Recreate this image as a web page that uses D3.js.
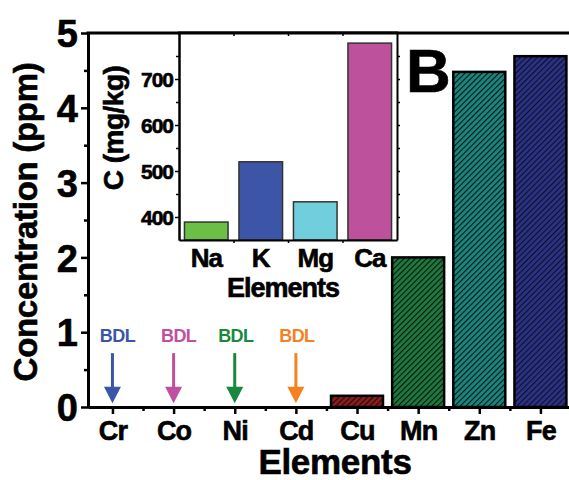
<!DOCTYPE html>
<html>
<head>
<meta charset="utf-8">
<script src="https://cdn.jsdelivr.net/npm/d3@7/dist/d3.min.js"></script>
<style>
  html, body { margin: 0; padding: 0; background: #fff; }
  svg { display: block; font-family: "Liberation Sans", Arial, sans-serif; font-weight: bold; }
  .axis path, .axis line { stroke: #000; }
  .axis text { fill: #000; font-family: "Liberation Sans", Arial, sans-serif; font-weight: bold; }
  .heavy { stroke: #000; stroke-width: 0.6px; }
</style>
</head>
<body>
<svg id="chart" width="569" height="480"></svg>
<script>
// Main chart: trace elements (ppm), inset: major elements (mg/kg)

const categories = ["Cr", "Co", "Ni", "Cd", "Cu", "Mn", "Zn", "Fe"];
const concentrations = [null, null, null, null, 0.15, 2.0, 4.48, 4.69];
const markColors = ["#3b55a8", "#c0509f", "#17893f", "#f5821f", "#8e1c1c", "#1b7a3c", "#17877f", "#2a318d"];
const yTicks = [0, 1, 2, 3, 4, 5];

const insetCategories = ["Na", "K", "Mg", "Ca"];
const insetValues = [389, 520, 433, 778];
const insetColors = ["#6bbf47", "#3c55a6", "#70cedd", "#bd519b"];
const insetTicks = [400, 500, 600, 700];

const svg = d3.select("#chart");

const x = d3.scaleLinear().domain([0.6, 8.5]).range([88, 571]);
const y = d3.scaleLinear().domain([0, 5]).range([407, 33]);

// ---- hatch patterns ----
const defs = svg.append("defs");
markColors.forEach((c, i) => {
    const p = defs.append("pattern")
        .attr("id", "hatch" + i)
        .attr("patternUnits", "userSpaceOnUse")
        .attr("width", 4).attr("height", 4)
        .attr("patternTransform", "rotate(45)");
    p.append("rect").attr("width", 4).attr("height", 4).attr("fill", c);
    p.append("line").attr("x1", 0).attr("y1", 0).attr("x2", 0).attr("y2", 4)
        .attr("stroke", "#111").attr("stroke-width", 2.2);
});

// ---- bars ----
const barW = x(1.85) - x(1);
const bars = categories.map((c, i) => ({ c, i, v: concentrations[i] })).filter(d => d.v != null);

svg.selectAll(".bar")
    .data(bars).enter().append("rect")
    .attr("class", "bar")
    .attr("x", d => x(d.i + 1) - barW / 2)
    .attr("y", d => y(d.v))
    .attr("width", barW)
    .attr("height", d => y(0) - y(d.v))
    .attr("fill", d => `url(#hatch${d.i})`)
    .attr("stroke", "#000")
    .attr("stroke-width", 2.5);

// ---- BDL arrows ----
const bdl = categories.map((c, i) => ({ c, i, v: concentrations[i] })).filter(d => d.v == null);
const arrowTop = 0.72, arrowHead = 0.27, arrowTip = 0.05, bdlLevel = 0.96;

const ar = svg.selectAll(".bdl").data(bdl).enter().append("g").attr("class", "bdl");
ar.append("text")
    .attr("x", d => x(d.i + 1) + (d.i < 2 ? 5 : 1))
    .attr("y", y(bdlLevel))
    .attr("dy", "0.36em")
    .attr("text-anchor", "middle")
    .attr("font-size", 18)
    .attr("letter-spacing", -0.6)
    .attr("fill", d => markColors[d.i])
    .text("BDL");
ar.append("line")
    .attr("x1", d => x(d.i + 1)).attr("x2", d => x(d.i + 1))
    .attr("y1", y(arrowTop)).attr("y2", y(arrowHead) + 1)
    .attr("stroke", d => markColors[d.i])
    .attr("stroke-width", 3);
ar.append("path")
    .attr("d", d => {
        const cx = x(d.i + 1);
        return `M${cx - 8.5},${y(arrowHead)} L${cx + 8.5},${y(arrowHead)} L${cx},${y(arrowTip)} Z`;
    })
    .attr("fill", d => markColors[d.i]);

// ---- main axes ----
const yAxis = svg.append("g").attr("class", "axis")
    .attr("transform", `translate(${x(0.6)},0)`)
    .call(d3.axisLeft(y).tickValues(yTicks).tickFormat(d3.format("d"))
        .tickSize(7).tickSizeOuter(0).tickPadding(3));
yAxis.selectAll("text").attr("font-size", 38).attr("dy", "0.36em").classed("heavy", true);
svg.append("g").attr("class", "axis minor")
    .attr("transform", `translate(${x(0.6)},0)`)
    .call(d3.axisLeft(y).tickValues(d3.range(0.5, 5, 1)).tickSize(4).tickSizeOuter(0).tickFormat(""));

const xAxis = svg.append("g").attr("class", "axis")
    .attr("transform", `translate(0,${y(0)})`)
    .call(d3.axisBottom(x).tickValues(d3.range(1, 9)).tickFormat(i => categories[i - 1])
        .tickSize(7).tickSizeOuter(0));
xAxis.selectAll("text").attr("font-size", 27).attr("letter-spacing", -0.8)
    .attr("y", 33).attr("dy", 0).classed("heavy", true);
svg.append("g").attr("class", "axis minor")
    .attr("transform", `translate(0,${y(0)})`)
    .call(d3.axisBottom(x).tickValues(d3.range(1.5, 8, 1)).tickSize(4).tickSizeOuter(0).tickFormat(""));

svg.selectAll(".axis path.domain").attr("stroke-width", 3);
svg.selectAll(".axis .tick line").attr("stroke-width", 2.5);

// top frame
svg.append("line")
    .attr("x1", x(0.6) - 1.5).attr("x2", x(8.5))
    .attr("y1", y(5)).attr("y2", y(5))
    .attr("stroke", "#000").attr("stroke-width", 3);

// axis titles
svg.append("text")
    .attr("class", "heavy")
    .attr("transform", `translate(37,${(y(0) + y(5)) / 2 + 2}) rotate(-90)`)
    .attr("text-anchor", "middle")
    .attr("font-size", 33)
    .attr("letter-spacing", -0.3)
    .text("Concentration (ppm)");
svg.append("text")
    .attr("class", "heavy")
    .attr("x", 335).attr("y", 474)
    .attr("text-anchor", "middle")
    .attr("font-size", 35)
    .attr("letter-spacing", -0.3)
    .text("Elements");

svg.append("text")
    .attr("class", "heavy")
    .attr("x", 406).attr("y", 92)
    .attr("font-size", 62)
    .attr("letter-spacing", -1)
    .text("B");

// ---- inset ----
const ix = d3.scaleBand().domain(insetCategories).range([179, 397]).paddingInner(0.2).paddingOuter(0.1);
const iy = d3.scaleLinear().domain([350, 800]).range([240, 33]);

const inset = svg.append("g");
inset.append("rect")
    .attr("x", 179).attr("y", 33).attr("width", 397 - 179).attr("height", 240 - 33)
    .attr("fill", "#fff");

inset.selectAll(".ibar")
    .data(insetCategories).enter().append("rect")
    .attr("class", "ibar")
    .attr("x", d => ix(d))
    .attr("y", (d, i) => iy(insetValues[i]))
    .attr("width", ix.bandwidth())
    .attr("height", (d, i) => iy(350) - iy(insetValues[i]))
    .attr("fill", (d, i) => insetColors[i])
    .attr("stroke", "#333")
    .attr("stroke-width", 1.5);

const iyAxis = inset.append("g").attr("class", "axis")
    .attr("transform", "translate(179,0)")
    .call(d3.axisLeft(iy).tickValues(insetTicks).tickSize(4).tickSizeOuter(0).tickPadding(2));
iyAxis.selectAll("text").attr("font-size", 21).attr("letter-spacing", -1).attr("dy", "0.36em")
    .classed("heavy", true);
inset.append("g").attr("class", "axis")
    .attr("transform", "translate(179,0)")
    .call(d3.axisLeft(iy).tickValues(d3.range(450, 800, 100)).tickSize(3).tickSizeOuter(0).tickFormat(""));
inset.append("g").attr("class", "axis")
    .attr("transform", "translate(397,0)")
    .call(d3.axisRight(iy).tickValues(d3.range(400, 800, 50)).tickSize(3).tickSizeOuter(0).tickFormat(""));

const ixAxis = inset.append("g").attr("class", "axis")
    .attr("transform", "translate(0,240)")
    .call(d3.axisBottom(ix).tickSize(0).tickSizeOuter(0));
ixAxis.selectAll("text").attr("font-size", 26).attr("letter-spacing", -1)
    .attr("y", 27).attr("dy", 0).classed("heavy", true);
const bounds = insetCategories.slice(1).map(d => ix(d) - ix.step() * ix.paddingInner() / 2);
inset.append("g").attr("class", "axis")
    .attr("transform", "translate(0,240)")
    .call(d3.axisBottom(d3.scaleIdentity()).tickValues(bounds).tickSize(3).tickSizeOuter(0).tickFormat(""))
    .select(".domain").remove();
inset.append("g").attr("class", "axis")
    .attr("transform", "translate(0,33)")
    .call(d3.axisBottom(d3.scaleIdentity()).tickValues(bounds).tickSize(3).tickSizeOuter(0).tickFormat(""))
    .select(".domain").remove();

inset.selectAll(".axis path.domain").attr("stroke-width", 2);
inset.selectAll(".axis .tick line").attr("stroke-width", 1.5);
inset.append("line").attr("x1", 178).attr("x2", 398).attr("y1", 33).attr("y2", 33)
    .attr("stroke", "#000").attr("stroke-width", 3);

inset.append("text")
    .attr("class", "heavy")
    .attr("transform", "translate(123,128) rotate(-90)")
    .attr("text-anchor", "middle")
    .attr("font-size", 28)
    .attr("letter-spacing", -0.5)
    .text("C (mg/kg)");
inset.append("text")
    .attr("class", "heavy")
    .attr("x", (179 + 397) / 2 - 5).attr("y", 297)
    .attr("text-anchor", "middle")
    .attr("font-size", 27)
    .attr("letter-spacing", -1)
    .text("Elements");
</script>
</body>
</html>
